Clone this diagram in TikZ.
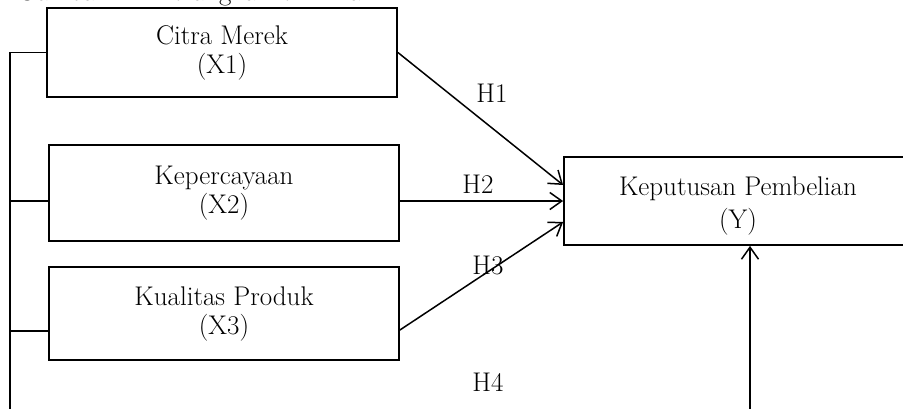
\documentclass[tikz,border=0pt]{standalone}
\usetikzlibrary{arrows.meta}
\begin{document}
\begin{tikzpicture}[x=1pt,y=-1pt,
  box/.style={draw,line width=1.8pt,align=center,inner sep=0pt,font=\fontsize{27}{29}\selectfont},
  lbl/.style={font=\fontsize{27}{29}\selectfont,inner sep=0pt,align=center},
  conn/.style={line width=1.8pt},
  arr/.style={line width=1.5pt,-{Straight Barb[length=12pt,width=17pt,line width=1.5pt]}}]
\useasboundingbox (0,0) rectangle (903,408);
\clip (0,0) rectangle (903,408);
\node[lbl,anchor=base west] (cap) at (17,0.5) {Gambar 2.1 Kerangka Pemikiran};
\node[box,minimum width=350pt,minimum height=89pt] (b1) at (222,52.5) {Citra Merek\\(X1)};
\node[box,minimum width=350pt,minimum height=96pt] (b2) at (224,193) {Kepercayaan\\(X2)};
\node[box,minimum width=350pt,minimum height=93pt] (b3) at (224,313.5) {Kualitas Produk\\(X3)};
\node[box,minimum width=348pt,minimum height=88pt] (y) at (738,201) {};
\node[lbl] (yt) at ([yshift=-5pt]y.center) {Keputusan Pembelian\\[4pt](Y)};
% hypotheses
\draw[arr] (b1.east) -- ([yshift=16pt]y.west);
\draw[arr] (b2.east |- y.west) -- (y.west);
\coordinate (s3) at ([yshift=-16.5pt]b3.east);
\draw[arr] (s3) -- ([yshift=-21pt]y.west);
\node[lbl] (h1) at (492,93) {H1};
\node[lbl] (h2) at (478,184) {H2};
\node[lbl] (h3) at (488,265) {H3};
\node[lbl] (h4) at (488,382) {H4};
% bus
\coordinate (bt) at (10,52.5);
\coordinate (bb) at (10,440);
\coordinate (br) at (750,440);
\coordinate (t2) at ([yshift=-8pt]b2.west);
\coordinate (t3) at ([yshift=-17.5pt]b3.west);
\draw[conn] (b1.west) -- (bt) -- (bb) -- (br);
\draw[arr] (br) -- ([xshift=12pt]y.south);
\draw[conn] (t2) -- (t2 -| bt);
\draw[conn] (t3) -- (t3 -| bt);
\end{tikzpicture}
\end{document}
